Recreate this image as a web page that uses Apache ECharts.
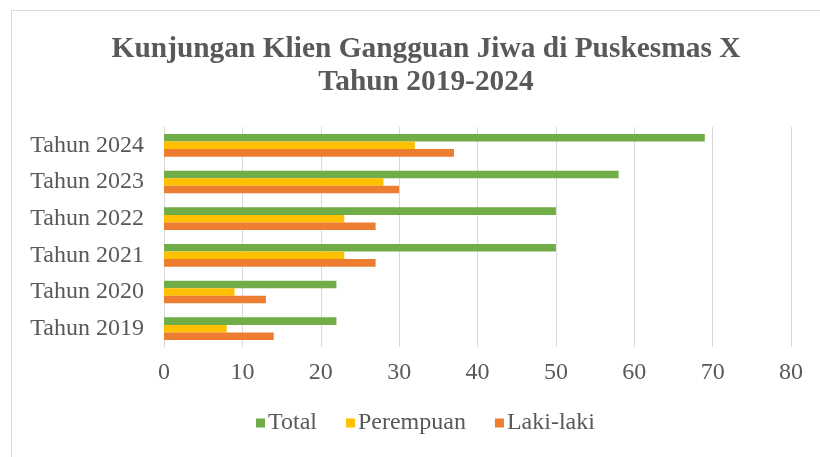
<!DOCTYPE html>
<html>
<head>
<meta charset="utf-8">
<script src="https://cdn.jsdelivr.net/npm/echarts@6/dist/echarts.min.js"></script>
<style>
  html, body { margin: 0; padding: 0; background: #fff; }
  #chart { width: 820px; height: 457px; }
</style>
</head>
<body>
<div id="chart"></div>
<script>
const categories = ['Tahun 2019', 'Tahun 2020', 'Tahun 2021', 'Tahun 2022', 'Tahun 2023', 'Tahun 2024'];
const lakiLaki = [14, 13, 27, 27, 30, 37];
const perempuan = [8, 9, 23, 23, 28, 32];
const total = [22, 22, 50, 50, 58, 69];
const xTicks = [0, 10, 20, 30, 40, 50, 60, 70, 80];

const chart = echarts.init(document.getElementById('chart'));
const textColor = '#595959';
const font = 'Liberation Serif';

const option = {
    animation: false,
    title: {
        text: 'Kunjungan Klien Gangguan Jiwa di Puskesmas X\nTahun 2019-2024',
        left: 421,
        textAlign: 'center',
        top: 28,
        textStyle: {
            fontFamily: font,
            fontSize: 29.4,
            fontWeight: 'bold',
            color: textColor,
            lineHeight: 33
        }
    },
    graphic: [{
        type: 'rect',
        shape: { x: 11.5, y: 10.5, width: 820, height: 460 },
        style: { fill: 'none', stroke: '#d9d9d9', lineWidth: 1 },
        silent: true
    }],
    legend: {
        data: ['Total', 'Perempuan', 'Laki-laki'],
        bottom: 17,
        left: 251,
        itemWidth: 9,
        itemHeight: 9,
        itemGap: 29,
        icon: 'rect',
        textStyle: { fontFamily: font, fontSize: 24, color: textColor, padding: [0, 0, 0, -2] }
    },
    grid: {
        left: 164,
        right: 29,
        top: 127,
        bottom: 110,
        containLabel: false
    },
    xAxis: {
        type: 'value',
        min: xTicks[0],
        max: xTicks[xTicks.length - 1],
        interval: 10,
        axisLine: { show: false },
        axisTick: { show: false },
        splitLine: { lineStyle: { color: '#d9d9d9', width: 1 } },
        axisLabel: { fontFamily: font, fontSize: 24, color: textColor, margin: 14 }
    },
    yAxis: {
        type: 'category',
        data: categories,
        axisLine: { show: true, lineStyle: { color: '#d9d9d9' } },
        axisTick: { show: false },
        axisLabel: { fontFamily: font, fontSize: 24, color: textColor, margin: 20 }
    },
    series: [{
        name: 'Total',
        type: 'bar',
        data: total,
        itemStyle: { color: '#70ad47' },
        barGap: '0%',
        barCategoryGap: '38%'
    }, {
        name: 'Perempuan',
        type: 'bar',
        data: perempuan,
        itemStyle: { color: '#ffc000' },
        barGap: '0%',
        barCategoryGap: '38%'
    }, {
        name: 'Laki-laki',
        type: 'bar',
        data: lakiLaki,
        itemStyle: { color: '#ed7d31' },
        barGap: '0%',
        barCategoryGap: '38%'
    }]
};
chart.setOption(option);
</script>
</body>
</html>
